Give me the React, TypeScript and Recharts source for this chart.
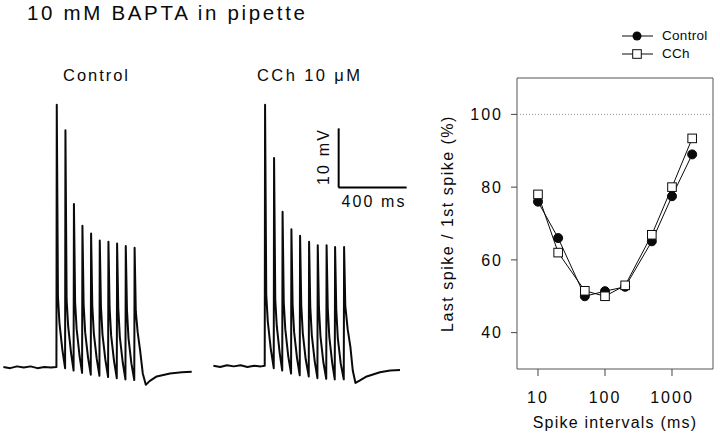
import React from 'react';
import { LineChart, Line, XAxis, YAxis, ReferenceLine, ReferenceArea, Legend } from 'recharts';

const FONT = '"Liberation Sans", Arial, Helvetica, sans-serif';
const INK = '#0a0a0a';

// ---- right panel: last spike / first spike ratio ----
const spikeIntervalsMs = [10, 20, 50, 100, 200, 500, 1000, 2000];
const controlRatioPct = [76, 66, 50, 51.4, 52.6, 65.1, 77.5, 89];
const cchRatioPct = [78, 62, 51.5, 50, 53, 66.9, 80, 93.4];
const xTickValues = [10, 100, 1000];
const yTickValues = [40, 60, 80, 100];
const referenceLevelPct = 100;
const seriesNames = ['Control', 'CCh'];

// ---- left panel: voltage traces (time in ms, membrane potential in mV relative to rest) ----
const controlTraceMs = [
  0, 40, 80, 120, 160, 200, 240, 280, 312,
  314, 321, 330, 347, 363,
  365, 372, 381, 398, 413,
  415, 422, 431, 448, 463,
  465, 472, 481, 498, 514,
  516, 523, 532, 549, 565,
  567, 574, 583, 600, 616,
  618, 625, 634, 651, 667,
  669, 676, 685, 702, 718,
  720, 727, 736, 753, 770,
  772, 779, 790, 804, 820, 838, 860, 902, 980, 1050, 1108,
];
const controlTraceMv = [
  0.1, -0.1, 0.2, 0.0, 0.2, -0.1, 0.1, 0.0, 0.1,
  44.5, 12, 7.5, 3, -0.1,
  40.2, 11.5, 7, 2.5, -0.5,
  27.7, 11, 6.5, 2, -0.9,
  24.0, 10.7, 6, 1.7, -1.2,
  22.7, 10.5, 5.8, 1.5, -1.4,
  21.5, 10.3, 5.6, 1.3, -1.6,
  21.3, 10.1, 5.4, 1.1, -1.8,
  21.0, 10, 5.2, 0.9, -2.0,
  20.6, 9.8, 5.0, 0.7, -2.1,
  20.3, 9.5, 6, 3, -1, -2.9, -2.3, -1.5, -1.0, -0.8, -0.7,
];
const cchTraceMs = [
  0, 40, 80, 120, 160, 200, 240, 280, 302,
  304, 311, 320, 337, 355,
  357, 364, 373, 390, 405,
  407, 414, 423, 440, 457,
  459, 466, 475, 492, 508,
  510, 517, 526, 543, 561,
  563, 570, 579, 596, 612,
  614, 621, 630, 647, 664,
  666, 673, 682, 699, 714,
  716, 723, 732, 749, 767,
  769, 776, 790, 806, 820, 836, 860, 902, 980, 1040, 1098,
];
const cchTraceMv = [
  0.3, 0.1, 0.4, 0.2, 0.4, 0.1, 0.3, 0.2, 0.3,
  44.5, 12.3, 7.8, 3.3, -0.1,
  35.5, 11.5, 7, 2.5, -0.5,
  26.4, 11, 6.5, 2, -1.0,
  23.4, 10.7, 6, 1.6, -1.3,
  22.3, 10.5, 5.8, 1.4, -1.5,
  21.3, 10.3, 5.5, 1.1, -1.8,
  20.7, 10.1, 5.3, 0.9, -1.9,
  20.7, 10, 5.2, 0.8, -2.0,
  20.4, 9.8, 5.0, 0.7, -2.0,
  20.4, 10.5, 6.5, 3.5, -0.5, -2.6, -2.2, -1.5, -0.8, -0.5, -0.4,
];
const scaleBarMv = 10;
const scaleBarMs = 400;
const scaleBarOriginMs = 737;
const scaleBarOriginMv = 30.5;

const ratioData = spikeIntervalsMs.map((x, i) => ({ x, control: controlRatioPct[i], cch: cchRatioPct[i] }));
const controlTrace = controlTraceMs.map((t, i) => ({ t, v: controlTraceMv[i] }));
const cchTrace = cchTraceMs.map((t, i) => ({ t, v: cchTraceMv[i] }));

const TRACE_W = 215;
const TRACE_H = 313;
const T_DOMAIN: [number, number] = [-20, 1245];
const V_DOMAIN: [number, number] = [-6, 47];

const SquareDot = (props: any) => {
  const { cx, cy, index } = props;
  if (cx == null || cy == null) return <g key={`sq-${index}`} />;
  return <rect key={`sq-${index}`} x={cx - 4.3} y={cy - 4.3} width={8.6} height={8.6} fill="#fff" stroke={INK} strokeWidth={1} />;
};

const LegendContent = () => (
  <div style={{ fontFamily: FONT, fontSize: 13.5, color: INK, letterSpacing: 0.3 }}>
    {seriesNames.map((name, i) => (
      <div key={name} style={{ display: 'flex', alignItems: 'center', height: 18 }}>
        <svg width={31} height={18} style={{ display: 'block' }}>
          <line x1={0} x2={31} y1={9} y2={9} stroke={INK} strokeWidth={1} />
          {i === 0 ? (
            <circle cx={15} cy={9} r={4.5} fill={INK} />
          ) : (
            <rect x={10.7} y={4.7} width={8.6} height={8.6} fill="#fff" stroke={INK} strokeWidth={1} />
          )}
        </svg>
        <span style={{ marginLeft: 9, lineHeight: '18px' }}>{name}</span>
      </div>
    ))}
  </div>
);

export default function App() {
  return (
    <div style={{ position: 'absolute', left: 0, top: 0, width: 720, height: 435, background: '#fff', overflow: 'hidden', fontFamily: FONT }}>
      {/* Control trace */}
      <div style={{ position: 'absolute', left: 0, top: 90 }}>
        <LineChart width={TRACE_W} height={TRACE_H} data={controlTrace} margin={{ top: 0, right: 0, bottom: 0, left: 0 }}>
          <XAxis dataKey="t" type="number" domain={T_DOMAIN} hide allowDataOverflow />
          <YAxis type="number" domain={V_DOMAIN} hide allowDataOverflow />
          <Line dataKey="v" type="linear" stroke={INK} strokeWidth={2} strokeLinejoin="round" dot={false} isAnimationActive={false} />
        </LineChart>
      </div>
      {/* CCh trace with scale bar */}
      <div style={{ position: 'absolute', left: 210, top: 90 }}>
        <LineChart width={TRACE_W} height={TRACE_H} data={cchTrace} margin={{ top: 0, right: 0, bottom: 0, left: 0 }}>
          <XAxis dataKey="t" type="number" domain={T_DOMAIN} hide allowDataOverflow />
          <YAxis type="number" domain={V_DOMAIN} hide allowDataOverflow />
          <Line dataKey="v" type="linear" stroke={INK} strokeWidth={2} strokeLinejoin="round" dot={false} isAnimationActive={false} />
          <ReferenceLine
            segment={[{ x: scaleBarOriginMs, y: scaleBarOriginMv }, { x: scaleBarOriginMs, y: scaleBarOriginMv + scaleBarMv }]}
            stroke="#000" strokeWidth={2} ifOverflow="visible"
          />
          <ReferenceLine
            segment={[{ x: scaleBarOriginMs - 1, y: scaleBarOriginMv }, { x: scaleBarOriginMs + scaleBarMs, y: scaleBarOriginMv }]}
            stroke="#000" strokeWidth={2} ifOverflow="visible"
          />
        </LineChart>
      </div>
      {/* Ratio chart */}
      <div style={{ position: 'absolute', left: 420, top: 0 }}>
        <LineChart width={300} height={435} data={ratioData} margin={{ top: 78, right: 7, bottom: 0, left: 0 }}>
          <XAxis
            dataKey="x" type="number" scale="log" domain={[4.86, 4093]} ticks={xTickValues} allowDataOverflow
            height={66} axisLine={false} tickSize={7} tickMargin={16}
            tickLine={{ stroke: '#444' }}
            tick={{ fill: INK, fontSize: 16, fontFamily: FONT, letterSpacing: 2 }}
            label={{ value: 'Spike intervals (ms)', position: 'insideBottom', offset: 7, fill: INK, fontSize: 16, fontFamily: FONT, letterSpacing: 1.2 }}
          />
          <YAxis
            type="number" domain={[30, 110]} ticks={yTickValues} allowDataOverflow
            width={97} axisLine={false} tickSize={6} tickMargin={8}
            tickLine={{ stroke: '#444' }}
            tick={{ fill: INK, fontSize: 16, fontFamily: FONT, letterSpacing: 2 }}
            label={{ value: 'Last spike / 1st spike (%)', angle: -90, position: 'insideLeft', offset: 27.5, fill: INK, fontSize: 16, fontFamily: FONT, letterSpacing: 1.5, style: { textAnchor: 'middle' } }}
          />
          <ReferenceArea x1={4.86} x2={4093} y1={30} y2={110} fill="none" fillOpacity={0} stroke="#555" strokeWidth={1} ifOverflow="visible" />
          <ReferenceLine y={referenceLevelPct} stroke="#999" strokeDasharray="1 2" />
          <Line dataKey="control" name={seriesNames[0]} type="linear" stroke={INK} strokeWidth={1} isAnimationActive={false}
            dot={{ r: 4.5, fill: INK, stroke: INK, strokeWidth: 1 }} />
          <Line dataKey="cch" name={seriesNames[1]} type="linear" stroke={INK} strokeWidth={1} isAnimationActive={false}
            dot={SquareDot} />
          <Legend layout="vertical" align="center" verticalAlign="middle" wrapperStyle={{ top: 27, left: 202, width: 100, height: 36 }} content={LegendContent} />
        </LineChart>
      </div>
      {/* Titles and scale bar labels */}
      <svg width={720} height={435} style={{ position: 'absolute', left: 0, top: 0, pointerEvents: 'none' }}>
        <text x={27} y={20} fontSize={20.5} fill={INK} fontFamily={FONT} textLength={278} lengthAdjust="spacing">10 mM BAPTA in pipette</text>
        <text x={63} y={81} fontSize={16.5} fill={INK} fontFamily={FONT} textLength={65} lengthAdjust="spacing">Control</text>
        <text x={257} y={81} fontSize={16.5} fill={INK} fontFamily={FONT} textLength={103} lengthAdjust="spacing">CCh 10 μM</text>
        <text x={0} y={0} fontSize={16} fill={INK} fontFamily={FONT} textAnchor="middle" textLength={55} lengthAdjust="spacing"
          transform="translate(329 157.5) rotate(-90)">10 mV</text>
        <text x={341.5} y={207} fontSize={16} fill={INK} fontFamily={FONT} textLength={63} lengthAdjust="spacing">400 ms</text>
      </svg>
    </div>
  );
}
